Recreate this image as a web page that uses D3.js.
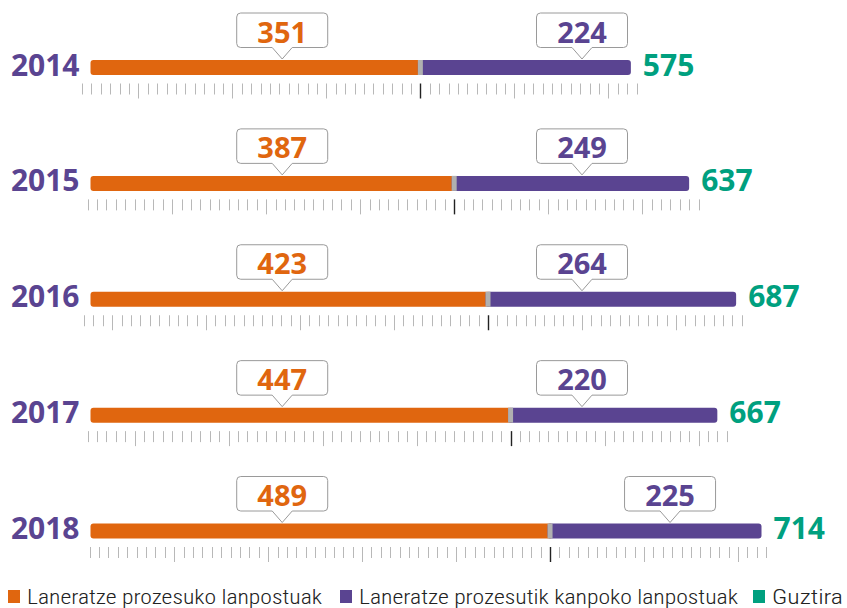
<!DOCTYPE html>
<html>
<head>
<meta charset="utf-8">
<script src="https://cdn.jsdelivr.net/npm/d3@7"></script>
<style>
  body { margin: 0; background: #fff; }
  svg { display: block; }
</style>
</head>
<body>
<svg class="Chart"></svg>
<script>
// balioak
const years = ["2014", "2015", "2016", "2017", "2018"];
const inside = [351, 387, 423, 447, 489];   // laneratze prozesuko
const outside = [224, 249, 264, 220, 225];  // prozesutik kanpoko
const totals = [575, 637, 687, 667, 714];
const legendLabels = ["Laneratze prozesuko lanpostuak", "Laneratze prozesutik kanpoko lanpostuak", "Guztira"];

const orange = "#e0660f", purple = "#5a4491", green = "#00a07f";
const width = 847, height = 608;
const numFont = "'Open Sans', 'Noto Sans', sans-serif";

let svg = d3.select(".Chart")
    .attr("width", width)
    .attr("height", height);

let x = d3.scaleLinear().domain([0, 714]).range([90.5, 761.5]);
let y = d3.scalePoint().domain(years).range([67.5, 531]);

let rows = years.map((yr, i) => ({year: yr, a: inside[i], b: outside[i], total: totals[i]}));

let row = svg.selectAll(".row")
    .data(rows)
    .join("g")
    .attr("class", "row")
    .attr("transform", d => "translate(0," + y(d.year) + ")");

// ruler under the bar, centred on the split
row.each(function(d) {
    let kMin = Math.ceil((-10 - d.a) / 10), kMax = Math.floor((d.total + 10 - d.a) / 10);
    let ticks = d3.range(kMin, kMax + 1);
    d3.select(this).selectAll(".tick")
        .data(ticks)
        .join("line")
        .attr("class", "tick")
        .attr("x1", k => Math.round(x(d.a + k * 10)) + 0.5)
        .attr("x2", k => Math.round(x(d.a + k * 10)) + 0.5)
        .attr("y1", 16)
        .attr("y2", k => k % 10 === 0 ? 31 : 27)
        .attr("stroke", k => k === 0 ? "#222" : "#b8b8b8")
        .attr("stroke-width", k => k === 0 ? 1.4 : 1);
});

// bars
row.append("rect")
    .attr("x", x(0))
    .attr("y", -7.5)
    .attr("width", d => x(d.a) + 2.5 - x(0))
    .attr("height", 15)
    .attr("rx", 3)
    .attr("fill", orange);

row.append("rect")
    .attr("x", d => x(d.a) - 2.5)
    .attr("y", -7.5)
    .attr("width", d => x(d.total) - x(d.a) + 2.5)
    .attr("height", 15)
    .attr("rx", 3)
    .attr("fill", purple);

row.append("rect")
    .attr("x", d => x(d.a) - 2.5)
    .attr("y", -7.5)
    .attr("width", 5)
    .attr("height", 15)
    .attr("fill", "#b0b0b0");

// year labels
row.append("text")
    .attr("x", x(0) - 11)
    .attr("y", 8)
    .attr("text-anchor", "end")
    .attr("font-family", numFont)
    .attr("font-weight", 700)
    .attr("font-size", 30)
    .attr("fill", purple)
    .text(d => d.year);

// totals
row.append("text")
    .attr("x", d => x(d.total) + 12)
    .attr("y", 8)
    .attr("font-family", numFont)
    .attr("font-weight", 700)
    .attr("font-size", 30)
    .attr("fill", green)
    .text(d => d.total);

// callouts
function callout(g, cx, value, color) {
    let w = 91, top = -54.5, bottom = -20, tip = -8.5, r = 4, pw = 10;
    let l = cx - w / 2, rr = cx + w / 2;
    let p = d3.path();
    p.moveTo(l + r, top);
    p.lineTo(rr - r, top);
    p.arcTo(rr, top, rr, top + r, r);
    p.lineTo(rr, bottom - r);
    p.arcTo(rr, bottom, rr - r, bottom, r);
    p.lineTo(cx + pw, bottom);
    p.lineTo(cx, tip);
    p.lineTo(cx - pw, bottom);
    p.lineTo(l + r, bottom);
    p.arcTo(l, bottom, l, bottom - r, r);
    p.lineTo(l, top + r);
    p.arcTo(l, top, l + r, top, r);
    p.closePath();
    g.append("path")
        .attr("d", p.toString())
        .attr("fill", "#fff")
        .attr("stroke", "#9a9a9a")
        .attr("stroke-width", 1);
    g.append("text")
        .attr("x", cx)
        .attr("y", -25)
        .attr("text-anchor", "middle")
        .attr("font-family", numFont)
        .attr("font-weight", 700)
        .attr("font-size", 29)
        .attr("fill", color)
        .text(value);
}

row.each(function(d) {
    let g = d3.select(this);
    let aAt = x(204), bAt = x(523);
    // move the second callout right when the split runs under it
    if (x(d.a) + 3 > bAt - 46) bAt = x(d.a) + 120;
    callout(g, aAt, d.a, orange);
    callout(g, bAt, d.b, purple);
});

// legend
const legendX = [8, 340, 753], legendW = [295, 379, 71];
const legendColors = [orange, purple, green];
let legend = svg.append("g").attr("class", "legend");
legend.selectAll("rect")
    .data(legendLabels)
    .join("rect")
    .attr("x", (d, i) => legendX[i])
    .attr("y", 590)
    .attr("width", 12)
    .attr("height", 13)
    .attr("fill", (d, i) => legendColors[i]);
legend.selectAll("text")
    .data(legendLabels)
    .join("text")
    .attr("x", (d, i) => legendX[i] + 19)
    .attr("y", 604)
    .attr("font-family", "'Liberation Sans Narrow', 'Roboto Condensed', Roboto, sans-serif")
    .attr("font-weight", 300)
    .attr("font-size", 21)
    .attr("fill", "#222")
    .attr("textLength", (d, i) => legendW[i])
    .attr("lengthAdjust", "spacingAndGlyphs")
    .text(d => d);
</script>
</body>
</html>
